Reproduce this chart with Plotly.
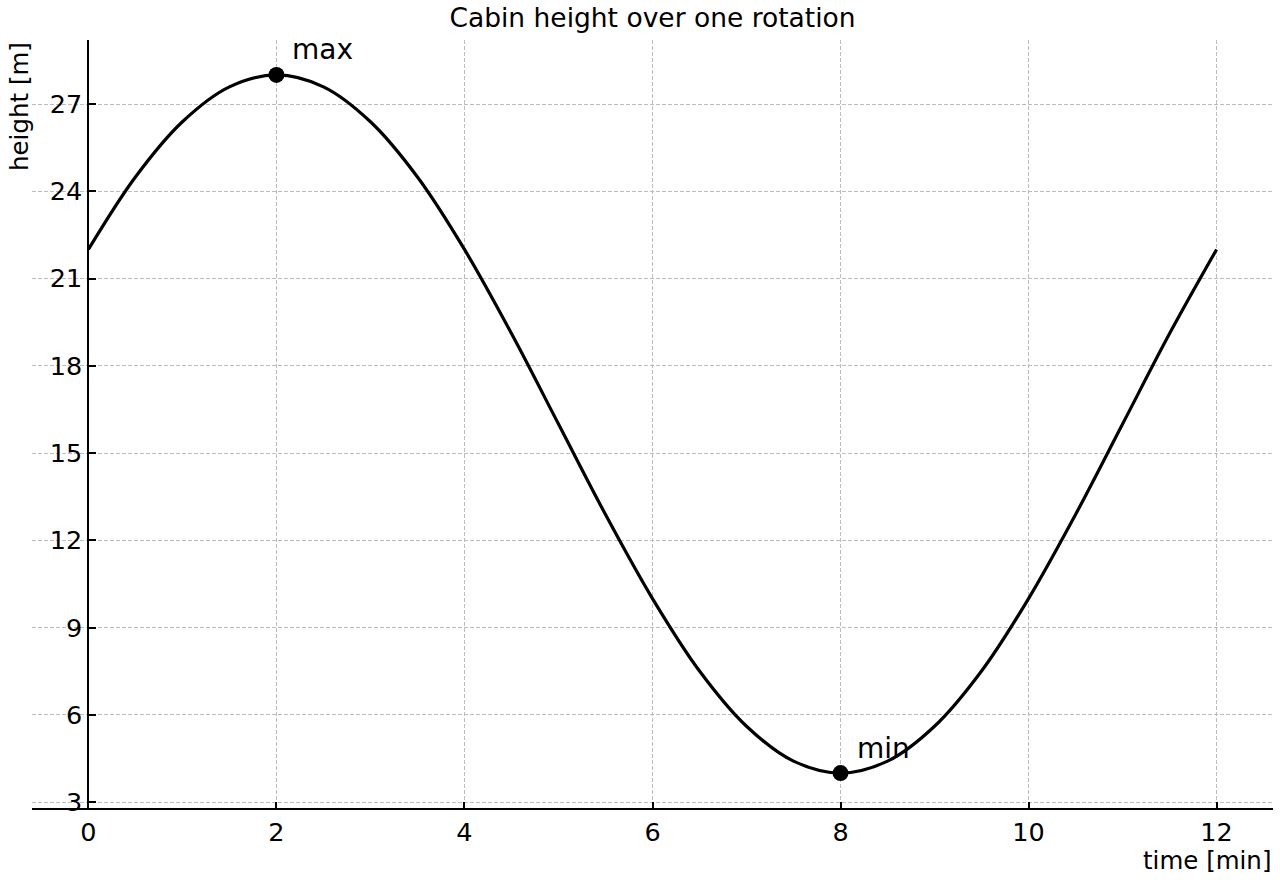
import plotly.graph_objects as go

# Data
time_min = [0, 0.5, 1, 1.5, 2, 2.5, 3, 3.5, 4, 4.5, 5, 5.5, 6,
            6.5, 7, 7.5, 8, 8.5, 9, 9.5, 10, 10.5, 11, 11.5, 12]
height_m = [22.0, 24.49, 26.39, 27.59, 28.0, 27.59, 26.39, 24.49, 22.0, 19.11, 16.0, 12.89, 10.0,
            7.51, 5.61, 4.41, 4.0, 4.41, 5.61, 7.51, 10.0, 12.89, 16.0, 19.11, 22.0]
extreme_t = [2, 8]
extreme_h = [28, 4]
extreme_labels = ["max", "min"]
x_ticks = [0, 2, 4, 6, 8, 10, 12]
y_ticks = [3, 6, 9, 12, 15, 18, 21, 24, 27]

FONT = "DejaVu Sans"
W, H = 1280, 880
L, R, T, B = 32, 7, 40, 72
x_range = [-0.6, 12.6]
y_range = [2.8, 29.2]

fig = go.Figure()
fig.add_trace(go.Scatter(x=time_min, y=height_m, mode="lines",
                         line=dict(color="black", width=3.2, shape="spline", smoothing=1.0),
                         hoverinfo="skip", showlegend=False))
fig.add_trace(go.Scatter(x=extreme_t, y=extreme_h, mode="markers",
                         marker=dict(color="black", size=16),
                         showlegend=False))
for t, h, lab in zip(extreme_t, extreme_h, extreme_labels):
    fig.add_annotation(x=t, y=h, xref="x", yref="y", text=lab, showarrow=False,
                       xanchor="left", yanchor="middle", xshift=14, yshift=25,
                       font=dict(family=FONT, size=28, color="black"))

plot_h = H - T - B
y0_pos = (0 - x_range[0]) / (x_range[1] - x_range[0])

fig.update_layout(
    width=W, height=H,
    margin=dict(l=L, r=R, t=T, b=B),
    paper_bgcolor="white", plot_bgcolor="white",
    font=dict(family=FONT, color="black"),
    title=dict(text="Cabin height over one rotation", x=0.5, xref="paper",
               xanchor="center", y=1 - 18 / H, yref="container", yanchor="middle",
               font=dict(family=FONT, size=26.5, color="black")),
    xaxis=dict(range=x_range, tickvals=x_ticks, ticktext=[str(v) for v in x_ticks],
               ticks="inside", ticklen=6, tickwidth=1.5, tickcolor="black",
               showline=True, linecolor="black", linewidth=2,
               showgrid=True, gridcolor="#bdbdbd", gridwidth=1, griddash="4px,2px",
               zeroline=False, tickfont=dict(family=FONT, size=25.5, color="black")),
    yaxis=dict(range=y_range, tickvals=y_ticks, ticktext=[str(v) for v in y_ticks],
               anchor="free", position=y0_pos,
               ticks="inside", ticklen=7, tickwidth=1.5, tickcolor="black",
               showline=True, linecolor="black", linewidth=2,
               showgrid=True, gridcolor="#bdbdbd", gridwidth=1, griddash="4px,2px",
               zeroline=False, tickfont=dict(family=FONT, size=25.5, color="black")),
)

fig.add_annotation(text="time [min]", xref="paper", yref="paper",
                   x=1, y=-(860 - (H - B)) / plot_h, xanchor="right", yanchor="middle",
                   showarrow=False, font=dict(family=FONT, size=24.5, color="black"))
fig.add_annotation(text="height [m]", xref="paper", yref="paper", textangle=-90,
                   x=-(L - 3) / (W - L - R), y=1, xanchor="left", yanchor="top",
                   showarrow=False, font=dict(family=FONT, size=24.5, color="black"))

fig.write_html("out.html")
